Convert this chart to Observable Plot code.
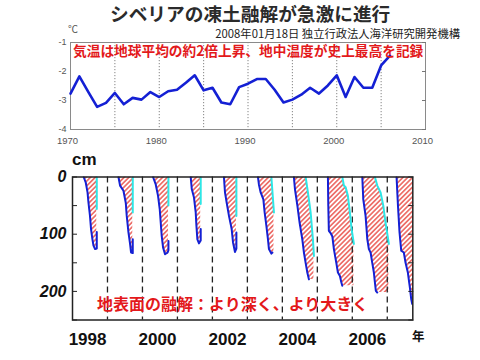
<!DOCTYPE html>
<html><head><meta charset="utf-8">
<script src="https://cdn.jsdelivr.net/npm/d3@7"></script>
<script src="https://cdn.jsdelivr.net/npm/@observablehq/plot@0.6"></script>
<style>
body{margin:0;background:#fff;}
#wrap{position:relative;width:480px;height:360px;overflow:hidden;background:#fff;}
.t{position:absolute;white-space:nowrap;line-height:1;font-family:"Noto Sans CJK JP",sans-serif;}
#top,#bot{position:absolute;left:0;}
#top{top:0}
#bot{top:150px}
</style></head><body>
<div id="wrap">
<div id="top"></div><div id="bot"></div>
<div class="t" id="title" style="left:110px;top:3.5px;font-size:18.7px;font-weight:700;color:#2b2b2b">シベリアの凍土融解が急激に進行</div>
<div class="t" style="right:20px;top:28.2px;font-size:11.3px;color:#222">2008年01月18日 独立行政法人海洋研究開発機構</div>
<div class="t" style="left:68px;top:24px;font-size:10px;color:#555">℃</div>
<div class="t" style="left:73px;top:44.4px;font-size:13.7px;font-weight:700;color:#e3191b">気温は地球平均の約2倍上昇、地中温度が史上最高を記録</div>
<div class="t" style="left:72px;top:151px;font-size:17px;font-weight:700;color:#111;font-family:'Liberation Sans',Arial,sans-serif">cm</div>
<div class="t" style="left:97px;top:294.7px;font-size:16px;font-weight:700;color:#e3191b">地表面の融解：より深く、より大きく</div>
<div class="t" style="left:412px;top:329.5px;font-size:12.5px;font-weight:700;color:#111">年</div>
</div>
<script>
// ---- top panel: air temperature (°C)
const tempYears = [1970,1971,1972,1973,1974,1975,1976,1977,1978,1979,1980,1981,1982,1983,1984,1985,1986,1987,1988,1989,1990,1991,1992,1993,1994,1995,1996,1997,1998,1999,2000,2001,2002,2003,2004,2005,2006];
const tempValues = [-2.76,-2.17,-2.7,-3.22,-3.08,-2.74,-3.13,-2.91,-2.97,-2.71,-2.88,-2.68,-2.63,-2.39,-2.13,-2.65,-2.56,-3.07,-3.13,-2.54,-2.42,-2.26,-2.26,-2.63,-3.07,-2.97,-2.8,-2.56,-2.76,-2.48,-2.13,-2.88,-2.19,-2.56,-2.56,-1.79,-1.45];
const topXTicks = [1970,1980,1990,2000,2010];
const topGridYears = [1975,1980,1985,1990,1995,2000,2005];
const topYTicks = [-1,-2,-3,-4];

// ---- bottom panel: thaw depth (cm); time = season year + fraction
const seasons = [1998,1999,2000,2001,2002,2003,2004,2005,2006,2007];
const blueTime = [
 [.32,.38,.43,.457,.50,.53,.57,.60,.646,.694,.694],
 [.314,.36,.457,.523,.551,.60,.646,.674,.723,.723],
 [.303,.38,.446,.494,.523,.551,.589,.646,.72,.743,.743],
 [.38,.41,.474,.523,.543,.571,.617,.666,.666],
 [.33,.36,.409,.474,.551,.589,.646,.686,.686],
 [.303,.33,.38,.457,.494,.543,.589,.617,.686,.714],
 [.33,.36,.43,.494,.571,.617,.666,.714,.76],
 [.303,.314,.33,.38,.43,.474,.543,.589,.646,.686,.714],
 [.286,.314,.38,.43,.474,.523,.571,.617,.646,.674,.714],
 [.266,.306,.351,.40,.474,.523,.589,.646,.686,.714]
];
const blueDepth = [
 [0,10,27,45,68,91,109,120,126,125,96],
 [0,15,24,45,68,97,117,132,133,109],
 [0,13,33,56,80,103,123,135,132,128,112],
 [0,21,36,62,85,109,116,111,91],
 [0,27,45,68,91,114,131,125,97],
 [0,13,27,39,62,85,109,126,134,132],
 [0,21,50,80,109,132,150,167,179],
 [0,50,94,98,104,126,150,167,173,184,190],
 [0,39,68,109,126,132,150,167,184,199,202],
 [0,50,97,129,132,150,167,193,214,222]
];
const cyanTime = [
 [.694,.694],[.723,.723],[.743,.743],[.666,.666],[.686,.686],[.686,.76],
 [.666,.731,.809,.874,.903],
 [.714,.76,.81,.874,.931,.98,1.046],
 [.646,.714,.809,.886,.951,1.046],
 []
];
const cyanDepth = [
 [0,56],[0,62],[0,50],[0,47],[0,68],[0,62],
 [0,27,62,109,138],
 [0,15,18,33,62,91,117],
 [0,15,27,50,80,117],
 []
];
const dividerYears = [1999,2000,2001,2002,2003,2004,2005,2006,2007];
const botXLabels = [1998,2000,2002,2004,2006];
const labelShift = 0.43;
const depthLabels = [0,100,200];
const depthTicks = [0,50,100,150,200,250];
const xMin = 1998, xMax = 2007.73;

const blue = "#1420d4", cyan = "#2de6e6";

// top plot
const tempData = tempYears.map((y,i)=>({year:y, v:tempValues[i]}));
const topPlot = Plot.plot({
  width:480, height:150,
  marginLeft:70, marginRight:55, marginTop:42, marginBottom:21,
  x:{domain:[1970,2010]},
  y:{domain:[-4,-1]},
  style:{fontFamily:"'Liberation Sans',Arial,sans-serif", fontSize:"9px", color:"#555", background:"transparent", overflow:"visible"},
  marks:[
    Plot.ruleX(topGridYears,{stroke:"#777", strokeDasharray:"1.2,1.8", strokeWidth:0.9}),
    Plot.frame({stroke:"#8a8a8a"}),
    Plot.axisX(topXTicks,{tickSize:0, tickPadding:8, dx:-3, tickFormat:d=>String(d), label:null, fontSize:9.5}),
    Plot.axisY(topYTicks,{tickSize:0, tickPadding:4, tickFormat:d=>String(d), label:null}),
    Plot.axisY(topYTicks,{anchor:"right", tickSize:-4, fill:"none", stroke:"#777", label:null}),
    Plot.line(tempData,{x:"year", y:"v", stroke:blue, strokeWidth:2.6})
  ]
});
document.getElementById("top").appendChild(topPlot);

// bottom plot data
function interpT(ts, ds, d){
  if (d <= ds[0]) return ts[0];
  for (let j=1;j<ds.length;j++){
    if (d <= ds[j]){
      const a=ds[j-1], b=ds[j];
      return b===a ? ts[j] : ts[j-1] + (ts[j]-ts[j-1])*(d-a)/(b-a);
    }
  }
  return ts[ts.length-1];
}
const blueData = [], cyanData = [], hatchData = [];
seasons.forEach((yr,k)=>{
  blueTime[k].forEach((t,i)=>blueData.push({season:yr, t:yr+t, d:blueDepth[k][i]}));
  cyanTime[k].forEach((t,i)=>cyanData.push({season:yr, t:yr+t, d:cyanDepth[k][i]}));
  const bd = blueDepth[k], bt = blueTime[k];
  const imax = d3.maxIndex(bd);
  const lt = bt.slice(0,imax+1), ld = bd.slice(0,imax+1);
  const ct = cyanTime[k], cd = cyanDepth[k];
  const depths = Array.from(new Set([...ld, ...cd.filter(d=>d<=ld[imax])])).sort((a,b)=>a-b);
  depths.forEach(d=>hatchData.push({season:yr, d, tl:yr+interpT(lt,ld,d), tr: ct.length ? yr+interpT(ct,cd,d) : xMax}));
});

const botPlot = Plot.plot({
  width:480, height:210,
  marginLeft:72, marginRight:67.7, marginTop:26.5, marginBottom:40.5,
  x:{domain:[xMin,xMax]},
  y:{domain:[0,250], reverse:true},
  style:{fontFamily:"'Liberation Sans',Arial,sans-serif", color:"#111", background:"transparent", overflow:"visible"},
  marks:[
    Plot.area(hatchData,{x1:"tl", y1:"d", x2:"tr", y2:"d", z:"season", fill:"url(#hatch)", clip:true}),
    Plot.ruleX(dividerYears,{stroke:"#222", strokeWidth:1.3, strokeDasharray:"6,4"}),
    Plot.line(cyanData,{x:"t", y:"d", z:"season", stroke:cyan, strokeWidth:2, clip:true}),
    Plot.line(blueData,{x:"t", y:"d", z:"season", stroke:blue, strokeWidth:2, clip:true}),
    Plot.frame({stroke:"#222", strokeWidth:1.5}),
    Plot.axisY(depthLabels,{tickSize:0, tickPadding:6, tickFormat:d=>String(d), label:null, fontSize:16, fontWeight:"bold", fontStyle:"italic"}),
    Plot.axisY(depthTicks,{anchor:"left", tickSize:-5, fill:"none", stroke:"#222", label:null}),
    Plot.axisY(depthTicks,{anchor:"right", tickSize:-5, fill:"none", stroke:"#222", label:null}),
    Plot.axisX(botXLabels.map(y=>y+labelShift),{tickSize:0, tickPadding:13, tickFormat:d=>String(Math.round(d-labelShift)), label:null, fontSize:17, fontWeight:"bold"})
  ]
});
document.getElementById("bot").appendChild(botPlot);

// hatch pattern
const defs = d3.select(botPlot).insert("defs", ":first-child");
defs.append("pattern").attr("id","hatch").attr("patternUnits","userSpaceOnUse")
  .attr("width",3.4).attr("height",3.4).attr("patternTransform","rotate(45)")
  .append("line").attr("x1",1.7).attr("y1",-1).attr("x2",1.7).attr("y2",4.4)
  .attr("stroke","#e6332c").attr("stroke-width",1.2);
</script>
</body></html>
